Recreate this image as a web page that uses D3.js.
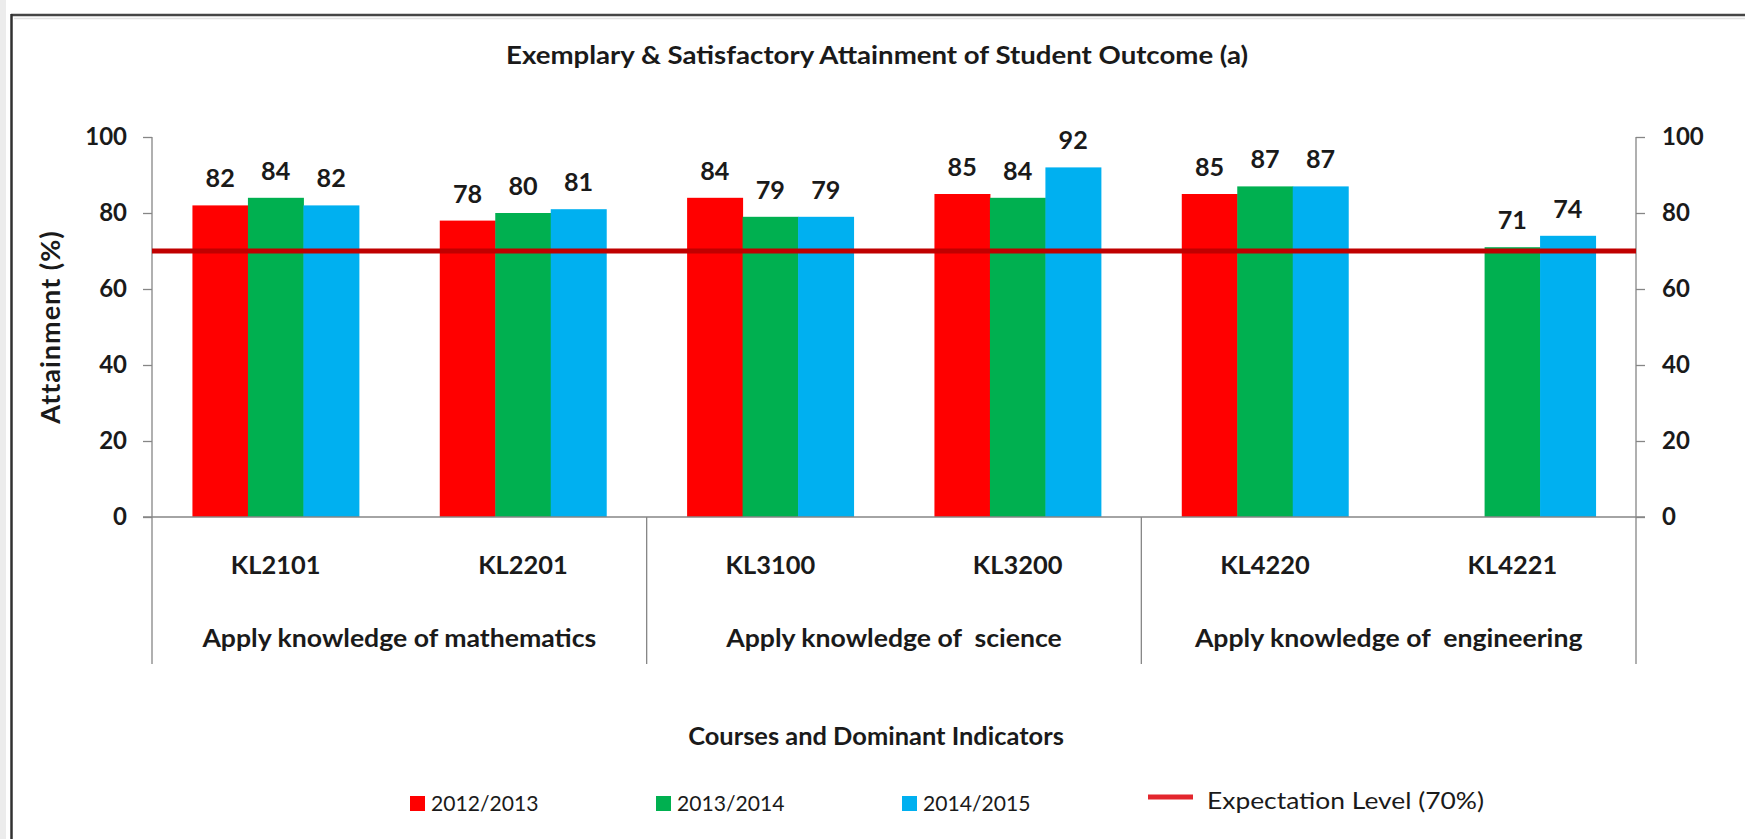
<!DOCTYPE html>
<html>
<head>
<meta charset="utf-8">
<script src="https://cdn.jsdelivr.net/npm/d3@7"></script>
<style>
  html, body { margin: 0; padding: 0; background: #fff; }
  svg { display: block; font-family: Lato, "Open Sans", sans-serif; }
</style>
</head>
<body>
<div id="chart"></div>
<script>
var width = 1745;
var height = 839;

// chart data
var courses = ["KL2101", "KL2201", "KL3100", "KL3200", "KL4220", "KL4221"];
var groups = ["Apply knowledge of mathematics", "Apply knowledge of  science", "Apply knowledge of  engineering"];
var groupOf = [0, 0, 1, 1, 2, 2];
var years = ["2012/2013", "2013/2014", "2014/2015"];
var values2012 = [82, 78, 84, 85, 85, null];
var values2013 = [84, 80, 79, 84, 87, 71];
var values2014 = [82, 81, 79, 92, 87, 74];
var yTicks = [0, 20, 40, 60, 80, 100];
var expectation = 70;

var colors = ["#ff0000", "#00b050", "#00b0f0"];
var series = [values2012, values2013, values2014];

var plot = {left: 152, right: 1636, top: 137, bottom: 517};
var axisColor = "#868686";
var textColor = "#1a1a1a";

var svg = d3.select("#chart")
    .append("svg")
    .attr("width", width)
    .attr("height", height);

// text helper: the picture's lettering is a little wider than Lato, so stretch sideways
function label(parent, x, y, str, size, bold, anchor, sx) {
    return parent.append("text")
        .attr("transform", "translate(" + x + "," + y + ") scale(" + (sx || 1) + ",1)")
        .attr("text-anchor", anchor || "middle")
        .attr("font-size", size)
        .attr("font-weight", bold ? "bold" : "normal")
        .attr("fill", textColor)
        .style("white-space", "pre")
        .text(str);
}

// frame round the chart
svg.append("rect").attr("x", 0).attr("y", 0).attr("width", 6).attr("height", height).attr("fill", "#ececec");
svg.append("line").attr("x1", 11).attr("x2", width).attr("y1", 15).attr("y2", 15)
    .attr("stroke", "#454545").attr("stroke-width", 2.5);
svg.append("line").attr("x1", 11.5).attr("x2", 11.5).attr("y1", 14).attr("y2", height)
    .attr("stroke", "#303030").attr("stroke-width", 2.5);
svg.append("line").attr("x1", 14).attr("x2", width).attr("y1", 18.5).attr("y2", 18.5)
    .attr("stroke", "#e2e2e2").attr("stroke-width", 1.5);

var x0 = d3.scaleBand()
    .domain(courses)
    .range([plot.left, plot.right])
    .paddingInner(0.327)
    .paddingOuter(0.1635);

var x1 = d3.scaleBand()
    .domain(d3.range(years.length))
    .range([0, x0.bandwidth()]);

var y = d3.scaleLinear()
    .domain([0, 100])
    .range([plot.bottom, plot.top]);

// title
label(svg, 877, 64, "Exemplary & Satisfactory Attainment of Student Outcome (a)", 24, true, "middle", 1.15);

// axes
var left = svg.append("g")
    .attr("class", "y-axis")
    .attr("transform", "translate(" + plot.left + ",0)")
    .call(d3.axisLeft(y).tickValues(yTicks).tickSize(9).tickPadding(16).tickSizeOuter(0));

var right = svg.append("g")
    .attr("class", "y-axis-right")
    .attr("transform", "translate(" + plot.right + ",0)")
    .call(d3.axisRight(y).tickValues(yTicks).tickSize(9).tickPadding(17).tickSizeOuter(0));

[left, right].forEach(function (g) {
    g.attr("font-family", null);
    g.select(".domain").remove();
    g.selectAll(".tick line").attr("stroke", axisColor).attr("stroke-width", 1.3);
    g.selectAll(".tick text")
        .attr("font-size", 24).attr("font-weight", "bold")
        .attr("fill", textColor);
});

var sepBottom = 664;
[plot.left, plot.right].forEach(function (xx) {
    svg.append("line")
        .attr("x1", xx).attr("x2", xx)
        .attr("y1", plot.top).attr("y2", sepBottom)
        .attr("stroke", axisColor).attr("stroke-width", 1.3);
});

// bars
courses.forEach(function (c, i) {
    series.forEach(function (vals, s) {
        var v = vals[i];
        if (v == null) return;
        svg.append("rect")
            .attr("x", x0(c) + x1(s))
            .attr("y", y(v))
            .attr("width", x1.bandwidth() + 0.5)
            .attr("height", y(0) - y(v))
            .attr("fill", colors[s]);
    });
});

// category axis line
svg.append("line")
    .attr("x1", plot.left - 9).attr("x2", plot.right + 9)
    .attr("y1", y(0)).attr("y2", y(0))
    .attr("stroke", axisColor).attr("stroke-width", 1.3);

// group separators and labels
var half = x0.step() * x0.paddingInner() / 2;
groups.forEach(function (g, k) {
    var members = courses.filter(function (c, i) { return groupOf[i] === k; });
    var start = x0(members[0]) - half;
    var end = x0(members[members.length - 1]) + x0.bandwidth() + half;
    if (k > 0) {
        svg.append("line")
            .attr("x1", start).attr("x2", start)
            .attr("y1", y(0)).attr("y2", sepBottom)
            .attr("stroke", axisColor).attr("stroke-width", 1.3);
    }
    label(svg, (start + end) / 2, 646.5, g, 24, true, "middle", 1.11);
});

courses.forEach(function (c) {
    label(svg, x0(c) + x0.bandwidth() / 2, 573.5, c, 24, true, "middle", 1.06);
});

// expectation line
svg.append("line")
    .attr("x1", plot.left).attr("x2", plot.right)
    .attr("y1", y(expectation)).attr("y2", y(expectation))
    .attr("stroke", "#c00000").attr("stroke-width", 5);

// data labels
courses.forEach(function (c, i) {
    series.forEach(function (vals, s) {
        var v = vals[i];
        if (v == null) return;
        label(svg, x0(c) + x1(s) + x1.bandwidth() / 2, y(v) - 18, v, 24, true, "middle", 1.05);
    });
});

// axis titles
svg.append("text")
    .attr("transform", "translate(59.5," + (plot.top + plot.bottom) / 2 + ") rotate(-90)")
    .attr("text-anchor", "middle")
    .attr("font-size", 27).attr("font-weight", "bold")
    .attr("letter-spacing", 1)
    .attr("fill", textColor)
    .text("Attainment (%)");

label(svg, 876, 744.5, "Courses and Dominant Indicators", 24, true, "middle", 1.06);

// legend
var legendX = [410, 656, 902];
var legend = svg.append("g");
years.forEach(function (yr, s) {
    legend.append("rect")
        .attr("x", legendX[s]).attr("y", 796)
        .attr("width", 15).attr("height", 15)
        .attr("fill", colors[s]);
    label(legend, legendX[s] + 21, 811, yr, 22, false, "start", 0.96);
});
legend.append("line")
    .attr("x1", 1148).attr("x2", 1193)
    .attr("y1", 797).attr("y2", 797)
    .attr("stroke", "#e3262d").attr("stroke-width", 5);
label(legend, 1207, 808.5, "Expectation Level (70%)", 24, false, "start", 1.1);
</script>
</body>
</html>
